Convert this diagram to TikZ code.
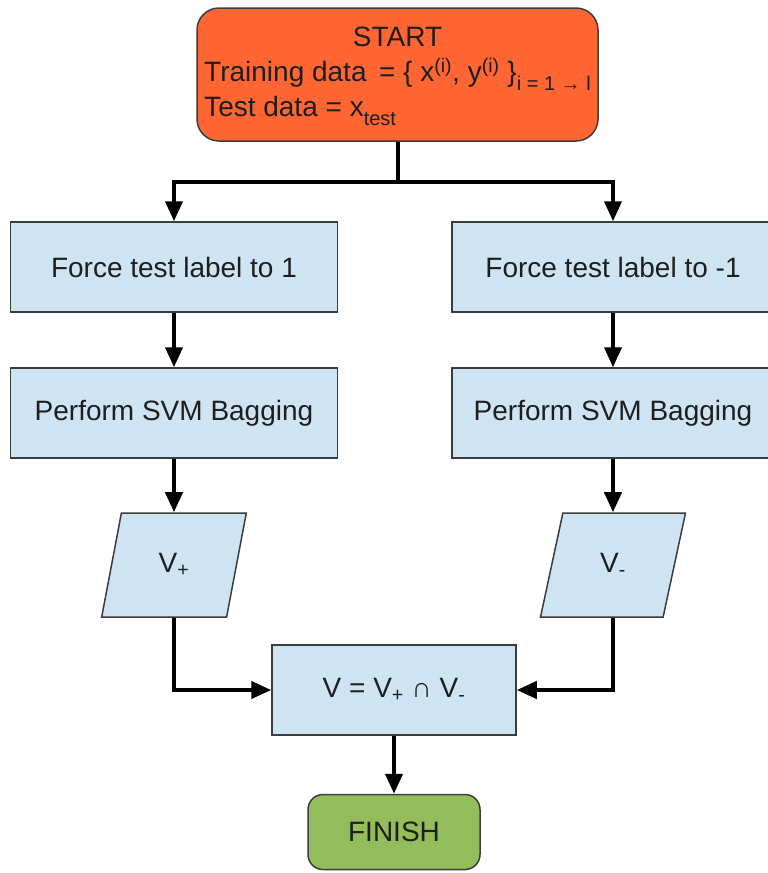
\documentclass[tikz,border=0pt]{standalone}
\usepackage{fontspec}
\setmainfont{Liberation Sans}
\definecolor{startorange}{RGB}{255, 102, 51}
\definecolor{stepblue}{RGB}{207, 228, 243}
\definecolor{finishgreen}{RGB}{147, 189, 90}
\definecolor{edgegray}{RGB}{60, 60, 60}
\definecolor{textdark}{RGB}{30, 30, 30}
\usetikzlibrary{arrows.meta,shapes.geometric}
\newcommand{\lowsub}[1]{\raisebox{-0.32em}{\fontsize{20}{24}\selectfont #1}}

\begin{document}
\begin{tikzpicture}[x=1pt, y=-1pt, thick, font=\fontsize{28}{35}\selectfont, text=textdark,
    stepbox/.style={rectangle, draw=edgegray, line width=1.5pt, fill=stepblue, minimum height=90pt, inner sep=0pt},
    databox/.style={trapezium, trapezium left angle=76, trapezium right angle=104, trapezium stretches=true, draw=edgegray, line width=1.5pt, fill=stepblue, minimum width=145pt, minimum height=104pt, inner sep=0pt},
    flow/.style={-{Triangle[length=20pt, width=17pt]}, line width=4pt, black}]
    \useasboundingbox (0,0) rectangle (768,873);

    \node[rectangle, rounded corners=22pt, draw=edgegray, line width=1.5pt, fill=startorange, minimum width=401pt, minimum height=133pt, inner sep=0pt] (start) at (397.5,74.5)
        {\begin{tabular}{@{}l@{}}\multicolumn{1}{c}{START}\\Training data\, = \{ x\textsuperscript{(i)}, y\textsuperscript{(i)} \}\lowsub{i = 1 → l}\\Test data = x\lowsub{test}\end{tabular}};

    \node[stepbox, minimum width=327pt] (force1) at (174,267) {Force test label to 1};
    \node[stepbox, minimum width=322pt] (force2) at (613,267) {Force test label to -1};

    \node[stepbox, minimum width=327pt] (bag1) at (174,413) {Perform SVM Bagging};
    \node[stepbox, minimum width=322pt] (bag2) at (613,413) {Perform SVM Bagging};

    \node[databox] (vplus) at (174,565) {V\textsubscript{+}};
    \node[databox] (vminus) at (613,565) {V\textsubscript{-}};

    \node[stepbox, minimum width=244pt] (merge) at (394,690) {V = V\textsubscript{+} ∩ V\textsubscript{-}};

    \node[rectangle, rounded corners=15pt, draw=edgegray, line width=1.5pt, fill=finishgreen, minimum width=172pt, minimum height=75pt, inner sep=0pt] (finish) at (394,832) {FINISH};

    \draw[flow] (start.south) -- ++(0,40) -| (force1.north);
    \draw[flow] (start.south) -- ++(0,40) -| (force2.north);
    \draw[flow] (force1) -- (bag1);
    \draw[flow] (force2) -- (bag2);
    \draw[flow] (bag1) -- (vplus);
    \draw[flow] (bag2) -- (vminus);
    \draw[flow] (vplus.south) |- (merge.west);
    \draw[flow] (vminus.south) |- (merge.east);
    \draw[flow] (merge) -- (finish);
\end{tikzpicture}
\end{document}
